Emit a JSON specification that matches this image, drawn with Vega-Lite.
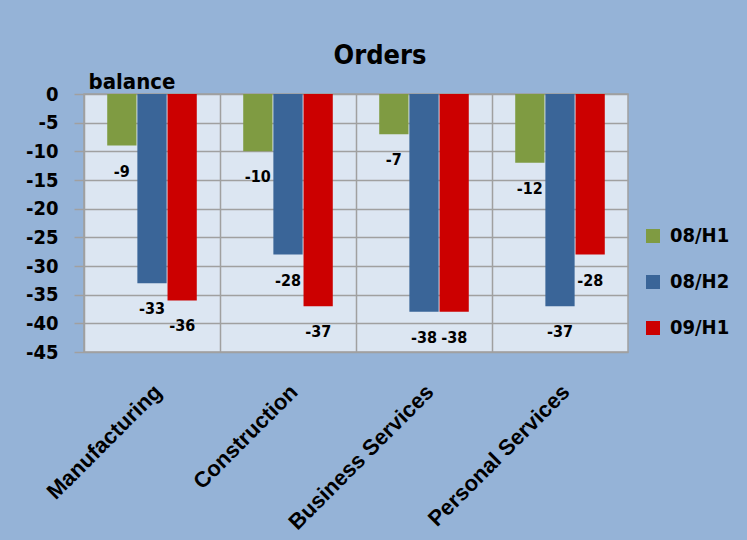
{
  "$schema": "https://vega.github.io/schema/vega-lite/v6.json",
  "width": 544,
  "height": 258,
  "autosize": {"type": "none"},
  "padding": {"left": 84, "top": 94, "right": 119, "bottom": 188},
  "background": "#95B3D7",
  "title": {
    "text": "Orders",
    "anchor": "middle",
    "frame": "group",
    "dx": 24,
    "dy": 6,
    "offset": 6,
    "fontSize": 27,
    "font": "DejaVu Sans Condensed, Liberation Sans, sans-serif",
    "fontWeight": "bold",
    "color": "black"
  },
  "data": {
    "values": [
      {"sector": "Manufacturing", "period": "08/H1", "value": -9},
      {"sector": "Manufacturing", "period": "08/H2", "value": -33},
      {"sector": "Manufacturing", "period": "09/H1", "value": -36},
      {"sector": "Construction", "period": "08/H1", "value": -10},
      {"sector": "Construction", "period": "08/H2", "value": -28},
      {"sector": "Construction", "period": "09/H1", "value": -37},
      {"sector": "Business Services", "period": "08/H1", "value": -7},
      {"sector": "Business Services", "period": "08/H2", "value": -38},
      {"sector": "Business Services", "period": "09/H1", "value": -38},
      {"sector": "Personal Services", "period": "08/H1", "value": -12},
      {"sector": "Personal Services", "period": "08/H2", "value": -37},
      {"sector": "Personal Services", "period": "09/H1", "value": -28}
    ]
  },
  "encoding": {
    "x": {
      "field": "sector",
      "type": "nominal",
      "sort": null,
      "scale": {"paddingInner": 0, "paddingOuter": 0},
      "axis": {
        "title": null,
        "grid": true,
        "bandPosition": 0,
        "ticks": false,
        "tickSize": 0,
        "domain": false,
        "labelAngle": -45,
        "labelAlign": "right",
        "labelBaseline": "middle",
        "labelPadding": 36,
        "labelOffset": 6,
        "labelFontSize": 22,
        "labelFont": "Liberation Sans",
        "labelFontWeight": "bold",
        "labelColor": "black",
        "labelOverlap": false,
        "labelLimit": 0
      }
    },
    "xOffset": {
      "field": "period",
      "type": "nominal",
      "sort": ["08/H1", "08/H2", "09/H1"],
      "scale": {"paddingInner": 0.03, "paddingOuter": 0.77}
    },
    "y": {
      "field": "value",
      "type": "quantitative",
      "scale": {"domain": [-45, 0], "nice": false},
      "axis": {
        "values": [-45, -40, -35, -30, -25, -20, -15, -10, -5, 0],
        "format": "d",
        "labelFont": "DejaVu Sans Condensed, Liberation Sans, sans-serif",
        "labelFontWeight": "bold",
        "labelFontSize": 20,
        "labelColor": "black",
        "tickSize": 10,
        "tickColor": "#A0A0A0",
        "tickWidth": 1.5,
        "labelPadding": 16,
        "domain": false,
        "title": "balance",
        "titleAngle": 0,
        "titleAlign": "left",
        "titleBaseline": "alphabetic",
        "titleX": 4,
        "titleY": -6,
        "titleFontSize": 22,
        "titleFont": "DejaVu Sans Condensed, Liberation Sans, sans-serif",
        "titleFontWeight": "bold",
        "titleColor": "black"
      }
    }
  },
  "layer": [
    {
      "mark": {"type": "bar"},
      "encoding": {
        "color": {
          "field": "period",
          "type": "nominal",
          "sort": ["08/H1", "08/H2", "09/H1"],
          "scale": {"domain": ["08/H1", "08/H2", "09/H1"], "range": ["#7F9B42", "#3A6598", "#CC0000"]},
          "legend": {
            "title": null,
            "orient": "none",
            "legendX": 559,
            "legendY": 132,
            "symbolType": "square",
            "symbolSize": 196,
            "symbolStrokeWidth": 0,
            "labelFontSize": 20,
            "labelFont": "DejaVu Sans Condensed, Liberation Sans, sans-serif",
            "labelFontWeight": "bold",
            "labelColor": "black",
            "labelOffset": 7,
            "rowPadding": 26
          }
        }
      }
    },
    {
      "mark": {
        "type": "text",
        "dy": 26,
        "baseline": "middle",
        "align": "center",
        "font": "DejaVu Sans Condensed, Liberation Sans, sans-serif",
        "fontWeight": "bold",
        "fontSize": 16,
        "color": "black"
      },
      "encoding": {
        "text": {"field": "value", "type": "quantitative", "format": "d"}
      }
    }
  ],
  "config": {
    "locale": {
      "number": {"decimal": ".", "thousands": ",", "grouping": [3], "currency": ["$", ""], "minus": "-"}
    },
    "view": {"stroke": "#A0A0A0", "strokeWidth": 1.5, "fill": "#DCE6F2"},
    "axis": {"gridColor": "#A0A0A0", "gridWidth": 1.5, "gridOpacity": 1}
  }
}
